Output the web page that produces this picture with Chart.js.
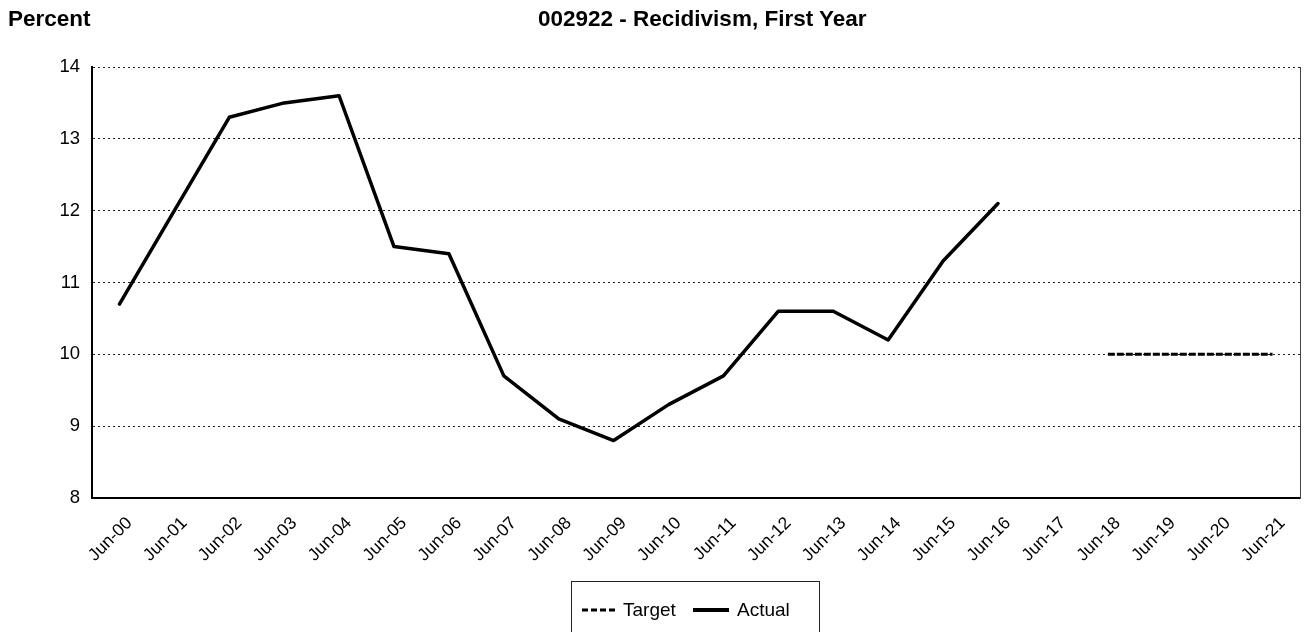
<!DOCTYPE html>
<html>
<head>
<meta charset="utf-8">
<script src="https://cdn.jsdelivr.net/npm/chart.js@4.4.1/dist/chart.umd.min.js"></script>
<style>
  html, body { margin:0; padding:0; background:#fff; width:1306px; height:632px; overflow:hidden; }
  #wrap { position:relative; width:1306px; height:632px; }
  canvas { position:absolute; left:0; top:0; }
  .hdr { position:absolute; font-family:"Liberation Sans", Arial, sans-serif; font-weight:bold; font-size:22.5px; line-height:22px; color:#000; white-space:nowrap; }
  #legend { position:absolute; left:571px; top:581px; width:249px; height:70px; border:1px solid #222; box-sizing:border-box;
            font-family:"Liberation Sans", Arial, sans-serif; font-size:19px; color:#000; }
  .item { position:absolute; top:17px; height:22px; line-height:22px; display:flex; align-items:center; white-space:nowrap; }
</style>
</head>
<body>
<div id="wrap">
  <canvas id="c" width="1306" height="632"></canvas>
  <div class="hdr" id="ylab" style="left:8px; top:8px;"></div>
  <div class="hdr" id="title" style="left:538px; top:8px;"></div>
  <div id="legend"></div>
</div>
<script>
const chartTitle = '002922 - Recidivism, First Year';
const yAxisTitle = 'Percent';
const categories = ['Jun-00','Jun-01','Jun-02','Jun-03','Jun-04','Jun-05','Jun-06','Jun-07','Jun-08','Jun-09','Jun-10','Jun-11','Jun-12','Jun-13','Jun-14','Jun-15','Jun-16','Jun-17','Jun-18','Jun-19','Jun-20','Jun-21'];
const targetValues = [null,null,null,null,null,null,null,null,null,null,null,null,null,null,null,null,null,null,10,10,10,10];
const actualValues = [10.7,12.0,13.3,13.5,13.6,11.5,11.4,9.7,9.1,8.8,9.3,9.7,10.6,10.6,10.2,11.3,12.1,null,null,null,null,null];
const yTicks = [8,9,10,11,12,13,14];
const seriesNames = ['Target','Actual'];

document.getElementById('ylab').textContent = yAxisTitle;
document.getElementById('title').textContent = chartTitle;

// HTML legend
const lg = document.getElementById('legend');
const mk = (name, dash, left, gap) => {
  const d = document.createElement('div');
  d.className = 'item';
  d.style.left = left + 'px';
  d.innerHTML = '<svg width="36" height="6" style="margin-right:' + gap + 'px"><line x1="0" y1="3" x2="36" y2="3" stroke="#000" stroke-width="' + (dash ? 3 : 4) + '"' + (dash ? ' stroke-dasharray="6,3"' : '') + '/></svg><span>' + name + '</span>';
  lg.appendChild(d);
};
mk(seriesNames[0], true, 10, 5);
mk(seriesNames[1], false, 121, 8);

const fontFam = '"Liberation Sans", Arial, sans-serif';
new Chart(document.getElementById('c'), {
  type: 'line',
  data: {
    labels: categories,
    datasets: [
      { label: seriesNames[0], data: targetValues, borderColor:'#000', borderWidth:3, borderDash:[7,2], pointRadius:0, fill:false, tension:0, spanGaps:false },
      { label: seriesNames[1], data: actualValues, borderColor:'#000', borderWidth:3.5, pointRadius:0, fill:false, tension:0, spanGaps:false, borderJoinStyle:'round', borderCapStyle:'round' }
    ]
  },
  options: {
    responsive:false,
    animation:false,
    devicePixelRatio:1,
    layout: { padding: { top:67, left:0, right:6, bottom:54 } },
    plugins: { legend:{ display:false }, title:{ display:false }, tooltip:{ enabled:false } },
    scales: {
      x: {
        offset:true,
        grid:{ display:false, drawTicks:false },
        border:{ display:true, color:'#000', width:2 },
        ticks:{ minRotation:45, maxRotation:45, autoSkip:false, color:'#000', font:{ family:fontFam, size:17.5 }, padding:15, labelOffset:10 },
        afterFit: s => { s.height = 80; }
      },
      y: {
        min:8, max:14,
        afterBuildTicks: s => { s.ticks = yTicks.map(v => ({ value:v })); },
        grid:{ color:'#222', lineWidth:1, drawTicks:false },
        border:{ display:true, color:'#000', width:2, dash:[2,3] },
        ticks:{ color:'#000', font:{ family:fontFam, size:18.5 }, padding:12 },
        afterFit: s => { s.width = 92; }
      },
      y2: {
        position:'right',
        display:true,
        grid:{ display:false, drawTicks:false },
        border:{ display:true, color:'#444', width:1 },
        ticks:{ display:false },
        afterFit: s => { s.width = 0; }
      }
    }
  }
});
</script>
</body>
</html>
